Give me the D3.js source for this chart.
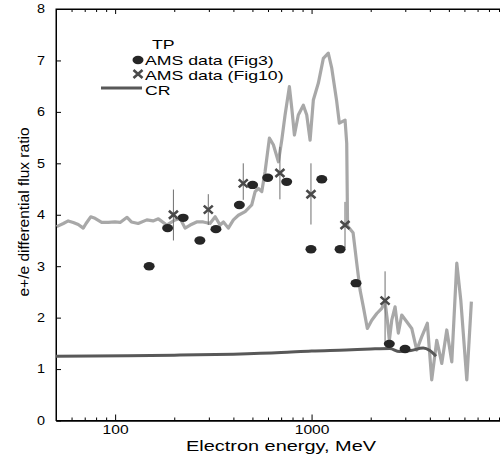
<!DOCTYPE html>
<html>
<head>
<meta charset="utf-8">
<script src="https://cdn.jsdelivr.net/npm/d3@7"></script>
<style>
  body { margin: 0; background: #fff; }
  svg { display: block; }
  text { font-family: "Liberation Sans", Arial, sans-serif; fill: #000; }
</style>
</head>
<body>
<div id="chart"></div>
<script>
// TP curve (grey)
const tpEnergy = [50.4, 54.5, 57.7, 61.2, 64.9, 68.8, 71.1, 75.1, 79.0, 85.4, 92.3, 99.8, 106, 115, 121, 131, 145, 156, 166, 183,
  202, 214, 227, 241, 260, 281, 304, 323, 342, 356, 377, 400, 424, 459, 496, 516, 536, 558, 580, 610,
  639, 678, 705, 733, 771, 793, 818, 856, 908, 945, 983, 1021, 1083, 1148, 1217, 1267, 1343, 1385, 1481, 1510,
  1525, 1627, 1698, 1765, 1835, 1923, 2025, 2148, 2277, 2366, 2431, 2489, 2560, 2661, 2766, 2878, 3052, 3236, 3431, 3639,
  3885, 4090, 4339, 4600, 4879, 5174, 5487, 5750, 6170, 6510];
const tpRatio = [3.77, 3.83, 3.88, 3.85, 3.81, 3.74, 3.83, 3.96, 3.93, 3.85, 3.85, 3.86, 3.85, 3.95, 3.86, 3.83, 3.90, 3.88, 3.92, 3.80,
  3.90, 3.93, 3.74, 3.80, 3.86, 3.86, 3.83, 3.96, 3.80, 3.86, 3.74, 3.90, 3.99, 4.06, 4.19, 4.45, 4.51, 4.45, 4.84, 5.49,
  5.36, 5.03, 5.45, 5.94, 6.49, 6.07, 5.55, 5.94, 6.13, 5.94, 5.45, 6.23, 6.56, 7.04, 7.14, 6.85, 6.20, 5.78, 5.84, 5.39,
  3.78, 3.65, 3.06, 2.54, 2.21, 1.79, 1.95, 2.08, 2.18, 2.31, 1.95, 1.56, 1.95, 2.21, 1.70, 2.05, 1.92, 1.79, 1.37, 1.63,
  1.89, 0.79, 1.56, 1.11, 1.76, 1.14, 3.06, 2.34, 0.79, 2.31];

// CR curve (dark)
const crEnergy = [50, 115, 200, 400, 700, 1000, 1500, 2000, 2500, 2800, 3200, 3700, 4000, 4300];
const crRatio = [1.25, 1.26, 1.27, 1.29, 1.32, 1.35, 1.37, 1.39, 1.40, 1.34, 1.36, 1.41, 1.36, 1.25];

// AMS data (Fig3)
const fig3Energy = [149, 185, 222, 270, 326, 429, 501, 598, 747, 993, 1127, 1397, 1684, 2488, 2992];
const fig3Ratio = [3.00, 3.74, 3.94, 3.50, 3.72, 4.19, 4.58, 4.72, 4.64, 3.33, 4.69, 3.33, 2.67, 1.49, 1.39];

// AMS data (Fig10) with error bars
const fig10Energy = [198, 298, 449, 690, 993, 1480, 2367];
const fig10Ratio = [4.00, 4.10, 4.61, 4.81, 4.40, 3.80, 2.33];
const fig10Low = [3.50, 3.80, 4.29, 4.30, 3.81, 3.35, 1.50];
const fig10High = [4.49, 4.40, 5.00, 5.32, 5.00, 4.25, 2.90];

const xMajorTicks = [100, 1000, 10000];
const xLabelTicks = [100, 1000];
const yTicks = [0, 1, 2, 3, 4, 5, 6, 7, 8];
const legendLabels = ['TP', 'AMS data (Fig3)', 'AMS data (Fig10)', 'CR'];

const width = 500, height = 458;

const svg = d3.select('#chart').append('svg')
  .attr('width', width)
  .attr('height', height);

const x = d3.scaleLog().domain([50, 10000]).range([56, 508]);
const y = d3.scaleLinear().domain([0, 8]).range([420.5, 9]);

// stretch text horizontally like the original
function stretch(sel, k) {
  sel.each(function() {
    const w = this.getComputedTextLength();
    d3.select(this).attr('textLength', w * k).attr('lengthAdjust', 'spacingAndGlyphs');
  });
}

// minor ticks
const minorTicks = [60, 70, 80, 90];
[100, 1000].forEach(p => {
  for (let m = 2; m <= 9; m++) minorTicks.push(m * p);
});

// frame
svg.append('rect')
  .attr('x', x(50)).attr('y', y(8))
  .attr('width', x(10000) - x(50)).attr('height', y(0) - y(8))
  .attr('fill', 'none').attr('stroke', '#000').attr('stroke-width', 1);

const bottomAxis = svg.append('g')
  .attr('transform', `translate(0,${y(0)})`)
  .call(d3.axisBottom(x).tickValues(xLabelTicks).tickSize(-6).tickSizeOuter(0).tickPadding(5).tickFormat(d3.format('d')));
bottomAxis.selectAll('text').attr('font-size', 12).attr('font-family', '"Liberation Sans", Arial, sans-serif');
svg.append('g')
  .attr('transform', `translate(0,${y(0)})`)
  .call(d3.axisBottom(x).tickValues(minorTicks).tickSize(-3).tickSizeOuter(0).tickFormat(''));
svg.append('g')
  .attr('transform', `translate(0,${y(8)})`)
  .call(d3.axisTop(x).tickValues(xMajorTicks).tickSize(-5).tickSizeOuter(0).tickFormat(''));
svg.append('g')
  .attr('transform', `translate(0,${y(8)})`)
  .call(d3.axisTop(x).tickValues(minorTicks).tickSize(-3).tickSizeOuter(0).tickFormat(''));

const leftAxis = svg.append('g')
  .attr('transform', `translate(${x(50)},0)`)
  .call(d3.axisLeft(y).tickValues(yTicks).tickSize(-5).tickSizeOuter(0).tickPadding(11).tickFormat(d3.format('d')));
leftAxis.selectAll('text').attr('font-size', 12).attr('font-family', '"Liberation Sans", Arial, sans-serif');
svg.append('g')
  .attr('transform', `translate(${x(10000)},0)`)
  .call(d3.axisRight(y).tickValues(yTicks).tickSize(-5).tickSizeOuter(0).tickFormat(''));

svg.selectAll('.domain').attr('stroke', '#000');
svg.selectAll('.tick line').attr('stroke', '#000');
stretch(bottomAxis.selectAll('text'), 1.3);
stretch(leftAxis.selectAll('text'), 1.2);

// axis titles
svg.append('text')
  .attr('x', 281).attr('y', 451)
  .attr('text-anchor', 'middle')
  .attr('font-size', 14)
  .attr('textLength', 190)
  .attr('lengthAdjust', 'spacingAndGlyphs')
  .text('Electron energy, MeV');

svg.append('text')
  .attr('transform', 'translate(29,212) rotate(-90)')
  .attr('text-anchor', 'middle')
  .attr('font-size', 15.5)
  .text('e+/e differential flux  ratio');

// curves
const line = d3.line().x(d => x(d[0])).y(d => y(d[1]));

svg.append('path')
  .datum(tpEnergy.map((e, i) => [e, tpRatio[i]]))
  .attr('d', line)
  .attr('fill', 'none')
  .attr('stroke', '#a8a8a8')
  .attr('stroke-width', 3.2)
  .attr('stroke-linejoin', 'round');

svg.append('path')
  .datum(crEnergy.map((e, i) => [e, crRatio[i]]))
  .attr('d', d3.line().curve(d3.curveMonotoneX).x(d => x(d[0])).y(d => y(d[1])))
  .attr('fill', 'none')
  .attr('stroke', '#585858')
  .attr('stroke-width', 3);

// error bars
svg.selectAll('.err')
  .data(fig10Energy)
  .enter().append('line')
  .attr('class', 'err')
  .attr('x1', d => x(d)).attr('x2', d => x(d))
  .attr('y1', (d, i) => y(fig10Low[i]))
  .attr('y2', (d, i) => y(fig10High[i]))
  .attr('stroke', '#6e6e6e')
  .attr('stroke-width', 1);

// Fig3 points
svg.selectAll('.pt3')
  .data(fig3Energy)
  .enter().append('ellipse')
  .attr('class', 'pt3')
  .attr('cx', d => x(d))
  .attr('cy', (d, i) => y(fig3Ratio[i]))
  .attr('rx', 5.5).attr('ry', 4.2)
  .attr('fill', '#262626');

// Fig10 crosses
const crossPath = 'M-4.5,-4L4.5,4M-4.5,4L4.5,-4';
svg.selectAll('.pt10')
  .data(fig10Energy)
  .enter().append('path')
  .attr('class', 'pt10')
  .attr('transform', (d, i) => `translate(${x(d)},${y(fig10Ratio[i])})`)
  .attr('d', crossPath)
  .attr('stroke', '#4a4a4a')
  .attr('stroke-width', 2.6)
  .attr('fill', 'none');

// legend
const legend = svg.append('g');
const lt0 = legend.append('text').attr('x', 152).attr('y', 49).attr('font-size', 13).text(legendLabels[0]);
const lt1 = legend.append('text').attr('x', 145).attr('y', 65).attr('font-size', 13).text(legendLabels[1]);
const lt2 = legend.append('text').attr('x', 145).attr('y', 80).attr('font-size', 13).text(legendLabels[2]);
const lt3 = legend.append('text').attr('x', 145).attr('y', 95).attr('font-size', 13).text(legendLabels[3]);
[lt0, lt1, lt2, lt3].forEach(t => stretch(t, 1.36));

legend.append('ellipse')
  .attr('cx', 138).attr('cy', 60).attr('rx', 5.5).attr('ry', 4.2).attr('fill', '#262626');
legend.append('path')
  .attr('transform', 'translate(138,74)')
  .attr('d', crossPath)
  .attr('stroke', '#4a4a4a').attr('stroke-width', 2.6).attr('fill', 'none');
legend.append('line')
  .attr('x1', 101).attr('x2', 142).attr('y1', 88).attr('y2', 88)
  .attr('stroke', '#585858').attr('stroke-width', 3);
</script>
</body>
</html>
